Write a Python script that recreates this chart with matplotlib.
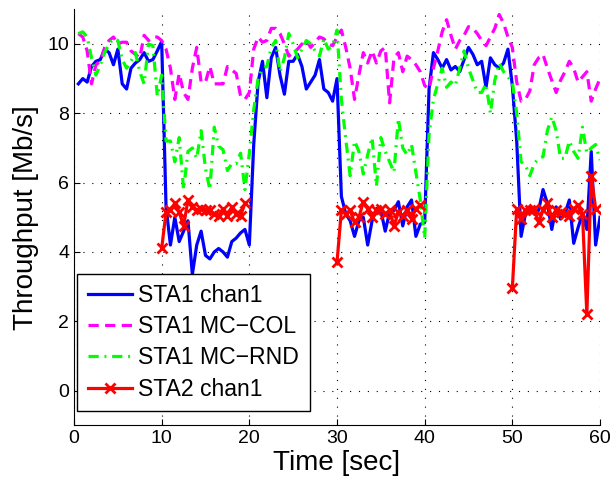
import numpy as np
import matplotlib
matplotlib.use("Agg")
import matplotlib.pyplot as plt

plt.rcParams["font.family"] = ["Liberation Sans", "DejaVu Sans"]

# sampling grid of the STA1 series (every 0.5 s)
t = np.arange(0.5, 60.01, 0.5)

sta1_chan1 = [
    8.85, 9.0, 8.9, 9.35, 9.5, 9.55, 9.85, 9.75, 9.4, 9.85,
    8.85, 8.7, 9.3, 9.45, 9.55, 9.75, 9.5, 9.55, 9.8, 10.07,
    5.3, 4.2, 5.0, 4.3, 4.6, 4.9, 3.35, 4.2, 4.6, 3.9,
    3.8, 4.0, 4.1, 4.0, 3.85, 4.3, 4.4, 4.55, 4.65, 4.2,
    7.1, 8.9, 9.5, 8.45, 9.6, 9.9, 9.1, 8.55, 9.5, 9.5,
    9.7, 9.35, 8.7, 8.9, 9.1, 9.55, 8.7, 8.6, 8.35, 9.0,
    5.6, 5.1, 4.9, 4.45, 4.9, 5.0, 4.2, 4.9, 5.25, 5.2,
    4.6, 5.15, 5.2, 5.45, 4.75, 5.3, 5.5, 4.45, 4.8, 4.85,
    8.7, 9.75, 9.55, 9.3, 9.55, 9.25, 9.35, 9.2, 9.55, 9.9,
    9.7, 9.4, 9.5, 8.75, 9.6, 9.4, 9.3, 9.45, 9.85, 8.8,
    7.2, 4.45, 5.1, 5.3, 5.1, 5.2, 5.8, 5.4, 4.65, 5.3,
    4.95, 5.1, 5.5, 4.25, 4.7, 5.1, 4.65, 6.9, 4.2, 5.0,
]

sta1_mc_col = [
    10.3, 10.2, 9.8, 8.85, 9.4, 9.5, 9.9, 10.1, 10.2, 10.0,
    10.05, 10.05, 9.8, 9.7, 9.6, 10.25, 10.1, 10.2, 10.2, 10.1,
    9.85, 9.3, 8.4, 9.15, 8.6, 8.4, 9.3, 9.9, 8.9, 8.9,
    9.35, 8.85, 8.85, 8.85, 9.35, 9.25, 9.15, 8.5, 8.4, 8.6,
    9.85, 10.2, 10.05, 10.1, 10.45, 10.45, 10.3, 10.0, 9.65, 9.75,
    9.85, 10.0, 10.1, 9.9, 10.05, 10.2, 10.15, 10.0, 9.95, 10.2,
    10.4, 9.9, 9.3, 8.4, 9.1, 9.75, 9.45, 9.8, 9.45, 9.8,
    9.9, 8.3, 9.6, 9.75, 9.2, 9.65, 9.55, 9.4, 9.2, 8.8,
    8.7, 9.3, 9.8, 10.35, 10.7, 10.25, 9.85, 10.1, 10.25, 10.5,
    10.45, 10.3, 10.1, 9.95, 10.2, 10.45, 10.85, 10.6, 10.2, 9.9,
    8.9, 8.35, 8.4, 8.65, 9.4, 9.6, 9.7, 9.3, 8.95, 8.6,
    8.95, 9.2, 9.5, 9.3, 8.9, 9.05, 9.2, 8.35, 8.7, 9.0,
]

sta1_mc_rnd = [
    10.3, 10.35, 10.2, 9.6, 9.1, 9.4, 9.75, 10.0, 10.15, 10.1,
    9.55, 9.3, 9.5, 9.75, 9.2, 8.85, 10.0, 9.95, 8.5, 9.1,
    7.2, 7.2, 6.6, 7.3, 5.8, 6.9, 7.0, 6.7, 7.5, 6.4,
    5.8, 7.6, 7.05, 6.95, 6.35, 6.55, 6.55, 6.85, 5.8, 6.85,
    8.1, 9.0, 9.3, 9.35, 9.9, 10.1, 9.2, 9.6, 10.3, 10.0,
    9.6, 9.85, 10.1, 10.0, 9.8, 9.65, 10.15, 9.85, 9.95, 10.4,
    8.4, 7.25, 6.2, 7.2, 6.9, 6.25, 6.8, 7.3, 5.9, 7.3,
    6.9, 6.6, 6.3, 7.85, 7.0, 6.8, 7.1, 6.3, 5.5, 4.4,
    7.4, 8.4, 8.85, 9.3, 8.75, 8.9, 8.8, 9.3, 9.8, 9.3,
    8.95, 8.6, 8.6, 8.85, 8.0, 8.95, 9.45, 9.2, 9.05, 8.9,
    8.0, 6.6, 6.5, 6.2, 6.55, 6.7, 6.75, 7.5, 7.9, 7.5,
    6.7, 6.7, 7.2, 6.9, 6.7, 7.6, 6.85, 7.0, 7.1, 6.65,
]

# STA2 is only active in three windows (start times 10, 30, 50 s)
sta2_starts = [10, 30, 50]
sta2_seg1 = [4.1, 5.15, 5.2, 5.4, 5.15, 4.75, 5.5, 5.3, 5.2, 5.25,
             5.2, 5.2, 5.1, 5.05, 5.25, 5.05, 5.3, 5.1, 5.05, 5.4]
sta2_seg2 = [3.7, 5.2, 5.1, 5.2, 4.85, 5.0, 5.45, 5.25, 5.0, 5.2,
             5.25, 5.1, 5.2, 4.75, 5.15, 5.05, 5.2, 4.95, 5.25, 5.35]
sta2_seg3 = [2.95, 5.25, 4.95, 5.2, 5.2, 5.25, 4.85, 5.2, 5.4, 5.0,
             5.2, 5.15, 5.1, 5.05, 5.25, 5.35, 5.1, 2.2, 6.2, 5.25]

# join the windows with NaN gaps so they draw as one legend entry
red_t, red_v = [], []
for start, seg in zip(sta2_starts, [sta2_seg1, sta2_seg2, sta2_seg3]):
    red_t += list(start + 0.5 * np.arange(len(seg))) + [np.nan]
    red_v += list(seg) + [np.nan]

fig = plt.figure(figsize=(6.14, 4.83), dpi=100)
ax = fig.add_axes([74 / 614, 57.7 / 483, 526 / 614, 416 / 483])

ax.plot(t, sta1_chan1, color=(0, 0, 1), lw=2.3, label="STA1 chan1")
ax.plot(t, sta1_mc_col, color=(1, 0, 1), lw=2.3, dashes=(3.2, 2.0),
        label="STA1 MC\u2212COL")
ax.plot(t, sta1_mc_rnd, color=(0, 1, 0), lw=2.3, dashes=(3.2, 1.8, 0.6, 1.8),
        label="STA1 MC\u2212RND")
ax.plot(red_t, red_v, color=(1, 0, 0), lw=2.3, marker="x", ms=7, mew=2,
        label="STA2 chan1")

ax.set_xlim(0, 60)
ax.set_ylim(-1, 11)
ax.set_xticks(range(0, 61, 10))
ax.set_yticks(range(0, 11, 2))
ax.grid(True, color="black", ls=(0, (1, 7)), lw=0.8)
ax.spines["top"].set_visible(False)
ax.spines["right"].set_visible(False)
ax.tick_params(direction="in", length=4, labelsize=14, top=False, right=False)
ax.set_xlabel("Time [sec]", fontsize=20, labelpad=2)
ax.set_ylabel("Throughput [Mb/s]", fontsize=20, labelpad=6)

leg = ax.legend(loc="lower left", bbox_to_anchor=(0.006, 0.034), borderaxespad=0,
                fontsize=16.6, handlelength=1.95, handletextpad=0.25,
                labelspacing=0.36, borderpad=0.45, fancybox=False, framealpha=1)
leg.get_frame().set_edgecolor("black")
leg.get_frame().set_linewidth(1.0)

fig.savefig("out.png", dpi=100)
